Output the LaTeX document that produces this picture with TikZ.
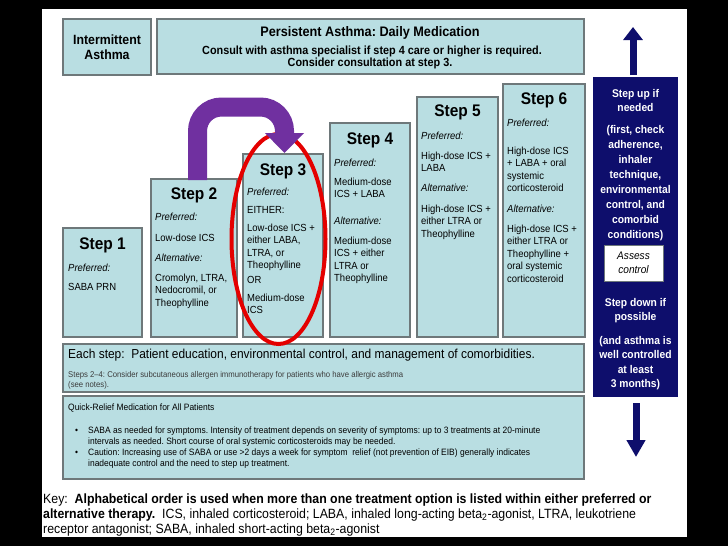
\documentclass[tikz,border=0pt]{standalone}
\usepackage{fontspec}
\setmainfont{Liberation Sans}[FakeStretch=0.92]
\usetikzlibrary{arrows.meta,shapes.geometric}
\newcommand{\myfs}[2]{\fontsize{#1}{#2}\selectfont}
\definecolor{boxfill}{RGB}{185,222,226}
\definecolor{boxline}{RGB}{110,120,122}
\definecolor{navyblue}{RGB}{14,14,108}
\definecolor{arrowpurple}{RGB}{112,48,160}
\definecolor{ringred}{RGB}{228,0,0}
\definecolor{greytext}{RGB}{60,60,60}
\frenchspacing
\begin{document}
\frenchspacing
\begin{tikzpicture}[x=1pt,y=-1pt,
  box/.style={draw=boxline, line width=1.1pt, fill=boxfill, anchor=north west, inner sep=0pt, outer sep=0pt},
  steptitle/.style={font=\bfseries\myfs{16.8}{18}, anchor=base, inner sep=0pt},
  body/.style={font=\myfs{10.3}{12}, anchor=base west, inner sep=0pt},
  navtxt/.style={font=\bfseries\myfs{11.2}{13}, text=white, anchor=base, inner sep=0pt},
  headtxt/.style={font=\bfseries\myfs{11.8}{13}, anchor=base, inner sep=0pt},
  small/.style={anchor=base west, inner sep=0pt},
  keytxt/.style={font=\myfs{13.4}{15}, anchor=base west, inner sep=0pt},
]
\useasboundingbox (0,0) rectangle (728,546);
\fill[black] (0,0) rectangle (728,546);
\fill[white] (42,9) rectangle (687,537);

% header boxes
\node[box, minimum width=88, minimum height=56] (inter) at (63,19) {};
\node[font=\bfseries\myfs{13.4}{15.5}, align=center] (intert) at (inter.center) {Intermittent\\Asthma};
\node[box, minimum width=427, minimum height=55] (pers) at (157,19) {};
\node[font=\bfseries\myfs{13.8}{14}, anchor=base, inner sep=0pt] (perst) at (370,36.5) {Persistent Asthma: Daily Medication};
\node[headtxt] (persa) at (372,54) {Consult with asthma specialist if step 4 care or higher is required.};
\node[headtxt] (persb) at (370,66.5) {Consider consultation at step 3.};

% step boxes
\node[box, minimum width=79, minimum height=109] (s1) at (63,228) {};
\node[box, minimum width=86, minimum height=158] (s2) at (151,179) {};
\node[box, minimum width=80, minimum height=183] (s3) at (243,154) {};
\node[box, minimum width=80, minimum height=214] (s4) at (330,123) {};
\node[box, minimum width=81, minimum height=240] (s5) at (417,97) {};
\node[box, minimum width=82, minimum height=253] (s6) at (503,84) {};

\node[steptitle] (s1t) at (102.5,249) {Step 1};
\node[steptitle] (s2t) at (194,199) {Step 2};
\node[steptitle] (s3t) at (283,175) {Step 3};
\node[steptitle] (s4t) at (370,144) {Step 4};
\node[steptitle] (s5t) at (457.5,116) {Step 5};
\node[steptitle] (s6t) at (544,104) {Step 6};

\foreach \y/\t [count=\i] in {271/{\textit{Preferred:}}, 290/{SABA PRN}}
  \node[body] (sa\i) at (68,\y) {\t};
\foreach \y/\t [count=\i] in {220/{\textit{Preferred:}}, 241/{Low-dose ICS}, 261/{\textit{Alternative:}},
   281/{Cromolyn, LTRA,}, 293.5/{Nedocromil, or}, 306/{Theophylline}}
  \node[body] (sb\i) at (155,\y) {\t};
\foreach \y/\t [count=\i] in {195/{\textit{Preferred:}}, 213/{EITHER:}, 231/{Low-dose ICS +},
   243.5/{either LABA,}, 256/{LTRA, or}, 268.5/{Theophylline}, 283/{OR}, 301/{Medium-dose}, 313.5/{ICS}}
  \node[body] (sc\i) at (247,\y) {\t};
\foreach \y/\t [count=\i] in {166/{\textit{Preferred:}}, 185/{Medium-dose}, 197.5/{ICS + LABA},
   224/{\textit{Alternative:}}, 244/{Medium-dose}, 256.5/{ICS + either}, 269/{LTRA or}, 281.5/{Theophylline}}
  \node[body] (sd\i) at (334,\y) {\t};
\foreach \y/\t [count=\i] in {139/{\textit{Preferred:}}, 159/{High-dose ICS +}, 171.5/{LABA},
   191/{\textit{Alternative:}}, 212/{High-dose ICS +}, 224.5/{either LTRA or}, 237/{Theophylline}}
  \node[body] (se\i) at (421,\y) {\t};
\foreach \y/\t [count=\i] in {126/{\textit{Preferred:}}, 154/{High-dose ICS}, 166.5/{+ LABA + oral},
   179/{systemic}, 191.5/{corticosteroid}, 212/{\textit{Alternative:}}, 232/{High-dose ICS +},
   244.5/{either LTRA or}, 257/{Theophylline +}, 269.5/{oral systemic}, 282/{corticosteroid}}
  \node[body] (sf\i) at (507,\y) {\t};

% bottom boxes
\node[box, minimum width=521, minimum height=48] (each) at (63,344) {};
\node[small, font=\myfs{13}{14}] (eacha) at (68,358) {Each step:\ \ Patient education, environmental control, and management of comorbidities.};
\node[small, font=\myfs{8.4}{9}, text=greytext] (eachb) at (68,377.5) {Steps 2--4: Consider subcutaneous allergen immunotherapy for patients who have allergic asthma};
\node[small, font=\myfs{8.4}{9}, text=greytext] (eachc) at (68,387) {(see notes).};

\node[box, minimum width=521, minimum height=83] (quick) at (63,396) {};
\node[small, font=\myfs{9.2}{10}] (qa) at (68,410) {Quick-Relief Medication for All Patients};
\node[small, font=\myfs{9.2}{10}] (qb0) at (75,433) {\textbullet};
\node[small, font=\myfs{9.2}{10}] (qb) at (88,433) {SABA as needed for symptoms. Intensity of treatment depends on severity of symptoms: up to 3 treatments at 20-minute};
\node[small, font=\myfs{9.2}{10}] (qc) at (88,444) {intervals as needed. Short course of oral systemic corticosteroids may be needed.};
\node[small, font=\myfs{9.2}{10}] (qd0) at (75,455) {\textbullet};
\node[small, font=\myfs{9.2}{10}] (qd) at (88,455) {Caution: Increasing use of SABA or use >2 days a week for symptom\ \ relief (not prevention of EIB) generally indicates};
\node[small, font=\myfs{9.2}{10}] (qe) at (88,466) {inadequate control and the need to step up treatment.};

% navy column
\node[box, draw=navyblue, fill=navyblue, minimum width=83, minimum height=318] (nav) at (594,78) {};
\foreach \y/\t [count=\i] in {97/{Step up if}, 111.5/{needed}, 133/{(first, check}, 148/{adherence,},
   163/{inhaler}, 178/{technique,}, 193/{environmental}, 208/{control, and}, 223/{comorbid},
   238/{conditions)}, 306/{Step down if}, 320.5/{possible}, 344/{(and asthma is}, 358.5/{well controlled},
   373/{at least}, 387.5/{3 months)}}
  \node[navtxt] (nv\i) at (635.5,\y) {\t};
\node[box, draw=boxline, fill=white, line width=0.6pt, minimum width=59, minimum height=36] (assess) at (604,245) {};
\node[font=\itshape\myfs{11}{13.5}, align=center, inner sep=0pt] (assesst) at (assess.center) {Assess\\control};

\coordinate (upS) at (633,75);
\coordinate (upE) at (633,27);
\coordinate (dnS) at (636,403);
\coordinate (dnE) at (636,457);
\draw[navyblue, line width=7pt, -{Triangle[width=19pt,length=13pt]}] (upS) -- (upE);
\draw[navyblue, line width=7pt, -{Triangle[width=18pt,length=17pt]}] (dnS) -- (dnE);

% red ring and purple arrow
\node[draw=ringred, line width=4pt, ellipse, minimum width=94, minimum height=210, inner sep=0pt] (ring) at (278.5,239) {};
\coordinate (pa) at (197.5,180);
\coordinate (pb) at (284.5,153);
\draw[arrowpurple, line width=19pt, rounded corners=24pt, -{Triangle[width=38pt,length=20pt]}]
  (pa) -- ++(0,-73) -| (pb);

% key
\node[keytxt] (k1) at (43,503) {Key:\ \ \textbf{Alphabetical order is used when more than one treatment option is listed within either preferred or}};
\node[keytxt] (k2) at (43,518.5) {\textbf{alternative therapy.}\ \ ICS, inhaled corticosteroid; LABA, inhaled long-acting beta\textsubscript{2}-agonist, LTRA, leukotriene};
\node[keytxt] (k3) at (43,533) {receptor antagonist; SABA, inhaled short-acting beta\textsubscript{2}-agonist};
\end{tikzpicture}
\end{document}
